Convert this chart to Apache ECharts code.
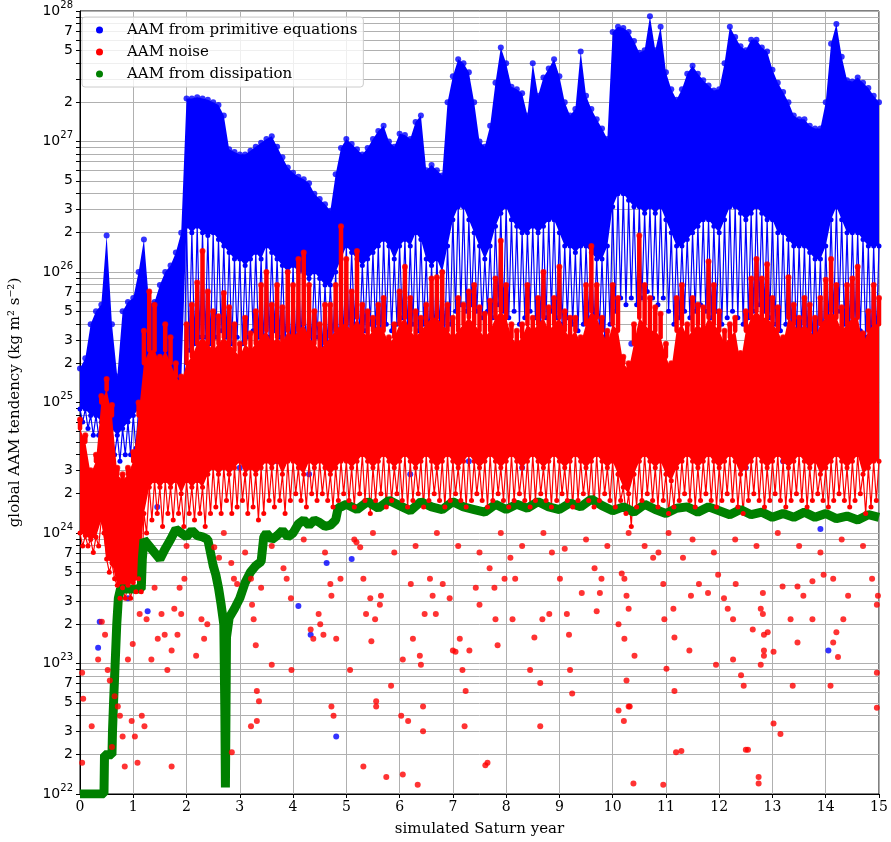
<!DOCTYPE html>
<html>
<head>
<meta charset="utf-8">
<script src="https://cdn.jsdelivr.net/npm/echarts@6/dist/echarts.min.js"></script>
<style>
  html, body { margin: 0; padding: 0; background: #fff; }
  #chart { width: 891px; height: 842px; }
</style>
</head>
<body>
<div id="chart"></div>
<script>
// all y values are log10 of the AAM tendency (kg m^2 s^-2)
// band arrays are sampled every 0.1 simulated year, 0 .. 15
var stepYears = [];
for (var i = 0; i <= 150; i++) stepYears.push(i / 10);

// primitive equations: upper edge, lower edge of the dense part, lower edge of the speckled part
var blueTopLog = [
  25.26, 25.34, 25.6, 25.7, 25.75, 26.28, 25.6, 25.2, 25.7, 25.77,
  25.8, 26.0, 26.25, 25.75, 25.77, 25.9, 26.0, 26.05, 26.15, 26.3,
  27.33, 27.33, 27.34, 27.33, 27.32, 27.3, 27.28, 27.2, 26.94, 26.92,
  26.9, 26.9, 26.93, 26.96, 26.99, 27.02, 27.04, 26.96, 26.88, 26.8,
  26.76, 26.73, 26.71, 26.68, 26.6, 26.56, 26.52, 26.47, 26.75, 26.95,
  27.02, 26.98, 26.94, 26.9, 26.95, 27.02, 27.08, 27.12, 27.0, 26.96,
  27.06, 27.05, 27.02, 27.15, 27.2, 26.78, 26.82, 26.78, 26.74, 27.3,
  27.5, 27.63, 27.6, 27.53, 27.3, 27.0, 26.96, 27.12, 27.45, 27.72,
  27.6, 27.42, 27.4, 27.37, 27.2, 27.6, 27.35, 27.49, 27.56, 27.63,
  27.5, 27.3, 27.2, 27.25, 27.69, 27.35, 27.25, 27.17, 27.1, 27.02,
  27.84, 27.88, 27.87, 27.84, 27.77, 27.68, 27.7, 27.96, 27.7, 27.88,
  27.53, 27.4, 27.32, 27.4, 27.52, 27.58, 27.52, 27.47, 27.43, 27.39,
  27.4, 27.6, 27.88, 27.8, 27.73, 27.7, 27.78, 27.78, 27.72, 27.69,
  27.55, 27.45, 27.38, 27.3, 27.2, 27.17, 27.17, 27.12, 27.1, 27.1,
  27.3, 27.75, 27.9, 27.65, 27.47, 27.46, 27.49, 27.45, 27.41, 27.35,
  27.3
];
var blueMidLog = [
  24.95, 24.95, 24.9, 24.9, 24.85, 24.85, 24.8, 24.75, 24.8, 24.85,
  24.9, 24.95, 25.0, 25.0, 25.0, 25.05, 25.05, 25.1, 25.1, 25.15,
  26.35, 26.3, 26.35, 26.3, 26.28, 26.3, 26.25, 26.2, 26.15, 26.1,
  26.1, 26.05, 26.1, 26.15, 26.1, 26.2, 26.15, 26.1, 26.05, 26.0,
  26.05, 26.0, 26.0, 25.95, 26.0, 25.95, 25.9, 25.9, 26.0, 26.1,
  26.2, 26.15, 26.1, 26.05, 26.1, 26.15, 26.2, 26.25, 26.2, 26.1,
  26.2, 26.25, 26.2, 26.3, 26.25, 26.1, 26.05, 26.1, 26.0, 26.2,
  26.4, 26.5, 26.5, 26.4, 26.3, 26.2, 26.1, 26.2, 26.35, 26.45,
  26.5, 26.4, 26.35, 26.3, 26.3, 26.35, 26.3, 26.35, 26.4, 26.4,
  26.3, 26.2, 26.2, 26.15, 26.2, 26.2, 26.15, 26.1, 26.1, 26.2,
  26.5, 26.6, 26.6, 26.55, 26.5, 26.5, 26.45, 26.5, 26.45, 26.5,
  26.4, 26.3, 26.2, 26.2, 26.25, 26.3, 26.35, 26.4, 26.4, 26.35,
  26.3, 26.4, 26.5, 26.5, 26.45, 26.4, 26.45, 26.5, 26.45, 26.4,
  26.4, 26.3, 26.3, 26.25, 26.2, 26.2, 26.2, 26.15, 26.1, 26.1,
  26.2, 26.4, 26.5, 26.4, 26.3, 26.3, 26.3, 26.25, 26.2, 26.2,
  26.2
];
var blueBotLog = [
  24.85, 24.8, 24.75, 24.75, 24.7, 24.65, 24.6, 24.55, 24.6, 24.6,
  24.65, 24.7, 24.75, 24.8, 24.8, 24.85, 24.8, 24.85, 24.9, 24.95,
  25.4, 25.45, 25.5, 25.5, 25.45, 25.5, 25.55, 25.5, 25.45, 25.5,
  25.45, 25.5, 25.55, 25.5, 25.45, 25.5, 25.55, 25.5, 25.45, 25.4,
  25.45, 25.5, 25.4, 25.45, 25.5, 25.4, 25.45, 25.5, 25.4, 25.5,
  25.55, 25.6, 25.5, 25.55, 25.6, 25.55, 25.5, 25.6, 25.55, 25.6,
  25.65, 25.55, 25.6, 25.55, 25.6, 25.5, 25.55, 25.6, 25.55, 25.6,
  25.7, 25.75, 25.7, 25.75, 25.7, 25.65, 25.7, 25.65, 25.75, 25.7,
  25.65, 25.7, 25.6, 25.65, 25.7, 25.65, 25.6, 25.65, 25.7, 25.65,
  25.6, 25.65, 25.6, 25.55, 25.6, 25.65, 25.6, 25.55, 25.5, 25.6,
  25.7, 25.8, 25.75, 25.8, 25.75, 25.8, 25.85, 25.8, 25.75, 25.8,
  25.7, 25.6, 25.65, 25.7, 25.65, 25.7, 25.75, 25.7, 25.65, 25.7,
  25.6, 25.65, 25.7, 25.65, 25.6, 25.65, 25.7, 25.75, 25.7, 25.65,
  25.6, 25.55, 25.6, 25.55, 25.5, 25.55, 25.5, 25.45, 25.5, 25.45,
  25.6, 25.65, 25.7, 25.6, 25.55, 25.6, 25.55, 25.5, 25.45, 25.5,
  25.5
];
// stray points of the same series below the cloud
var blueSparse = [
  [0.37, 23.32], [0.34, 23.12], [0.65, 22.9], [1.27, 23.4], [0.9, 23.5],
  [0.55, 24.3], [0.75, 24.1], [1.3, 24.4], [1.45, 24.2], [4.1, 23.44],
  [4.33, 23.22], [4.81, 22.44], [4.63, 23.77], [5.1, 23.8], [13.9, 24.03],
  [14.05, 23.1], [1.6, 24.6], [2.1, 24.7], [3.0, 24.5], [3.7, 24.55],
  [4.3, 24.45], [5.6, 24.7], [6.2, 24.45], [7.3, 24.55], [8.3, 24.5],
  [9.9, 24.8], [11.6, 24.6], [12.5, 24.5], [13.2, 24.55], [14.4, 24.6],
  [2.9, 24.9], [6.9, 24.95], [10.7, 24.85], [12.1, 24.9], [14.8, 24.95],
  [2.45, 25.3], [3.35, 25.2], [4.55, 25.25], [5.8, 25.3], [7.05, 25.4],
  [8.75, 25.35], [9.45, 25.3], [10.35, 25.45], [11.25, 25.4], [12.65, 25.3],
  [13.65, 25.2], [14.25, 25.35]
];

// noise: tops of the narrow spikes, top and bottom of the dense core, lower edge of the speckles
var redTopLog = [
  24.87, 24.75, 24.48, 24.6, 25.05, 25.18, 24.98, 24.5, 24.45, 24.5,
  24.62, 25.0, 25.55, 25.85, 25.75, 25.35, 25.6, 25.5, 25.3, 25.2,
  25.6, 25.75, 25.92, 26.16, 25.85, 25.7, 25.66, 25.84, 25.73, 25.6,
  25.45, 25.65, 25.53, 25.7, 25.9, 26.0, 25.75, 25.9, 25.73, 26.0,
  25.9, 26.1, 26.15, 25.9, 25.7, 25.6, 25.75, 25.75, 25.9, 26.35,
  26.1, 25.85, 26.16, 25.75, 25.7, 25.65, 25.75, 25.8, 25.5, 25.6,
  25.85, 26.04, 25.8, 25.7, 25.65, 25.75, 25.95, 25.96, 26.0, 25.75,
  25.65, 25.8, 25.75, 25.85, 25.9, 25.73, 25.68, 25.78, 25.95, 26.24,
  25.9, 25.6, 25.55, 25.6, 25.9, 25.65, 25.8, 26.0, 25.73, 25.8,
  26.04, 25.7, 25.65, 25.65, 25.5, 25.9, 26.2, 25.9, 25.65, 25.55,
  25.9, 25.8, 25.35, 25.3, 25.6, 26.28, 25.9, 25.8, 25.73, 25.68,
  25.45, 25.3, 25.8, 25.9, 25.6, 25.8, 25.75, 25.73, 26.08, 25.9,
  25.7, 25.55, 25.6, 25.65, 25.38, 25.7, 25.95, 26.1, 25.95, 26.06,
  25.8, 25.73, 25.5, 25.96, 25.75, 25.65, 25.8, 25.75, 25.65, 25.8,
  25.94, 26.1, 25.9, 25.73, 25.9, 25.95, 26.04, 25.53, 25.7, 25.9,
  25.8
];
var redCoreLog = [
  24.8, 24.7, 24.45, 24.55, 25.0, 25.1, 24.9, 24.45, 24.4, 24.45,
  24.55, 24.9, 25.3, 25.4, 25.4, 25.3, 25.4, 25.3, 25.2, 25.15,
  25.3, 25.35, 25.45, 25.5, 25.45, 25.4, 25.45, 25.5, 25.45, 25.4,
  25.35, 25.45, 25.4, 25.45, 25.5, 25.55, 25.45, 25.5, 25.45, 25.55,
  25.5, 25.55, 25.6, 25.5, 25.45, 25.4, 25.45, 25.5, 25.55, 25.6,
  25.6, 25.55, 25.65, 25.55, 25.5, 25.55, 25.6, 25.55, 25.45, 25.5,
  25.6, 25.65, 25.55, 25.5, 25.55, 25.6, 25.65, 25.65, 25.6, 25.55,
  25.5, 25.55, 25.6, 25.65, 25.6, 25.55, 25.5, 25.55, 25.65, 25.7,
  25.65, 25.5, 25.45, 25.5, 25.6, 25.55, 25.6, 25.65, 25.55, 25.6,
  25.65, 25.55, 25.5, 25.55, 25.45, 25.6, 25.7, 25.65, 25.55, 25.45,
  25.6, 25.55, 25.3, 25.25, 25.45, 25.65, 25.6, 25.55, 25.55, 25.5,
  25.35, 25.25, 25.55, 25.6, 25.5, 25.55, 25.6, 25.55, 25.65, 25.6,
  25.55, 25.45, 25.5, 25.55, 25.3, 25.55, 25.65, 25.7, 25.65, 25.65,
  25.6, 25.55, 25.45, 25.65, 25.6, 25.55, 25.6, 25.55, 25.5, 25.6,
  25.65, 25.7, 25.65, 25.55, 25.6, 25.65, 25.65, 25.45, 25.55, 25.6,
  25.6
];
var redBotLog = [
  24.0, 23.98, 23.95, 23.97, 24.1, 23.8, 23.77, 23.6, 23.58, 23.6,
  23.62, 23.65, 24.15, 24.35, 24.4, 24.35, 24.4, 24.35, 24.4, 24.3,
  24.4, 24.35, 24.4, 24.35, 24.45, 24.5, 24.45, 24.5, 24.45, 24.5,
  24.55, 24.45, 24.5, 24.45, 24.5, 24.55, 24.5, 24.55, 24.45, 24.55,
  24.55, 24.5, 24.45, 24.55, 24.5, 24.55, 24.5, 24.45, 24.5, 24.55,
  24.55, 24.5, 24.55, 24.6, 24.55, 24.5, 24.55, 24.6, 24.55, 24.5,
  24.55, 24.6, 24.55, 24.5, 24.55, 24.6, 24.55, 24.5, 24.55, 24.6,
  24.55, 24.5, 24.55, 24.6, 24.55, 24.5, 24.55, 24.6, 24.55, 24.5,
  24.55, 24.6, 24.55, 24.5, 24.55, 24.6, 24.55, 24.5, 24.55, 24.6,
  24.55, 24.5, 24.55, 24.6, 24.55, 24.5, 24.55, 24.6, 24.55, 24.5,
  24.55, 24.45, 24.35, 24.3, 24.45, 24.55, 24.6, 24.55, 24.5, 24.55,
  24.45, 24.4, 24.5, 24.55, 24.6, 24.55, 24.5, 24.55, 24.6, 24.55,
  24.5, 24.55, 24.6, 24.55, 24.45, 24.5, 24.55, 24.6, 24.55, 24.5,
  24.55, 24.6, 24.55, 24.5, 24.55, 24.6, 24.55, 24.5, 24.55, 24.45,
  24.5, 24.55, 24.6, 24.55, 24.5, 24.55, 24.6, 24.45, 24.5, 24.55,
  24.55
];
var redLowLog = [
  23.9, 23.9, 23.85, 23.9, 24.0, 23.7, 23.65, 23.5, 23.5, 23.5,
  23.55, 23.55, 24.0, 24.1, 24.15, 24.05, 24.15, 24.1, 24.15, 24.05,
  24.15, 24.1, 24.15, 24.05, 24.15, 24.2, 24.15, 24.25, 24.15, 24.2,
  24.25, 24.15, 24.2, 24.1, 24.15, 24.25, 24.2, 24.25, 24.15, 24.25,
  24.3, 24.25, 24.2, 24.3, 24.25, 24.3, 24.25, 24.2, 24.25, 24.3,
  24.25, 24.2, 24.3, 24.25, 24.15, 24.25, 24.3, 24.2, 24.25, 24.3,
  24.25, 24.2, 24.25, 24.3, 24.2, 24.25, 24.3, 24.25, 24.2, 24.25,
  24.3, 24.25, 24.2, 24.25, 24.3, 24.25, 24.2, 24.25, 24.3, 24.25,
  24.2, 24.25, 24.3, 24.25, 24.2, 24.25, 24.3, 24.25, 24.2, 24.25,
  24.3, 24.25, 24.2, 24.25, 24.3, 24.25, 24.2, 24.25, 24.3, 24.25,
  24.2, 24.25, 24.15, 24.05, 24.2, 24.25, 24.3, 24.25, 24.2, 24.25,
  24.15, 24.2, 24.25, 24.3, 24.25, 24.2, 24.25, 24.3, 24.25, 24.2,
  24.25, 24.3, 24.25, 24.2, 24.15, 24.25, 24.3, 24.25, 24.2, 24.25,
  24.3, 24.25, 24.2, 24.25, 24.3, 24.25, 24.2, 24.25, 24.3, 24.25,
  24.2, 24.25, 24.3, 24.25, 24.2, 24.25, 24.3, 24.15, 24.2, 24.25,
  24.25
];
var redSparse = [
  [0.04, 22.93], [0.06, 22.73], [0.22, 22.52], [0.34, 23.03], [0.41, 23.32],
  [0.47, 23.22], [0.52, 22.95], [0.56, 22.87], [0.65, 22.75], [0.71, 22.67],
  [0.75, 22.6], [0.8, 22.44], [0.84, 22.21], [0.9, 23.03], [0.97, 22.56],
  [0.99, 23.15], [1.03, 22.44], [1.08, 22.24], [1.12, 23.38], [1.21, 22.52],
  [1.25, 23.34], [1.34, 23.03], [1.4, 23.58], [1.46, 23.19], [1.53, 23.38],
  [1.59, 23.22], [1.64, 22.95], [1.72, 23.1], [1.77, 23.42], [1.83, 23.22],
  [1.87, 23.58], [1.9, 23.38], [1.96, 23.65], [2.18, 23.06], [2.28, 23.34],
  [2.33, 23.19], [1.72, 22.21], [1.16, 22.6], [0.6, 22.36], [0.04, 22.24],
  [2.39, 23.3], [2.52, 23.89], [2.61, 23.81], [2.84, 23.77], [2.89, 23.65],
  [2.95, 23.61], [3.21, 23.65], [3.23, 23.45], [3.26, 23.34], [3.3, 23.14],
  [3.32, 22.79], [3.36, 22.71], [3.4, 23.58], [3.21, 22.52], [3.32, 22.56],
  [3.6, 22.99], [3.82, 23.73], [3.88, 23.65], [3.96, 23.5], [3.97, 22.95],
  [4.33, 23.26], [4.38, 23.19], [4.48, 23.38], [4.51, 23.3], [4.57, 23.22],
  [4.72, 22.67], [4.76, 22.6], [4.81, 23.19], [4.7, 23.61], [4.72, 23.52],
  [4.89, 23.65], [5.07, 22.95], [2.85, 22.32], [5.26, 23.89], [5.32, 23.65],
  [5.37, 23.38], [5.45, 23.5], [5.47, 23.17], [5.54, 23.34], [5.56, 22.71],
  [5.63, 23.45], [5.65, 23.52], [5.75, 22.13], [5.84, 22.83], [6.03, 22.6],
  [6.06, 23.03], [6.16, 22.56], [6.21, 23.61], [6.25, 23.19], [6.38, 23.06],
  [6.4, 22.99], [6.44, 22.67], [6.44, 22.48], [6.34, 22.07], [6.47, 23.38],
  [6.57, 23.65], [6.62, 23.52], [6.68, 23.38], [6.81, 23.61], [6.94, 23.5],
  [7.0, 23.1], [7.05, 23.09], [7.13, 23.19], [7.18, 22.95], [7.24, 22.79],
  [7.22, 22.52], [7.31, 23.1], [7.43, 23.58], [7.5, 23.45], [7.61, 22.22],
  [5.32, 22.21], [5.56, 22.67], [5.19, 23.93], [7.65, 22.24], [7.69, 23.73],
  [7.78, 23.58], [7.8, 23.34], [7.84, 23.14], [7.97, 23.65], [8.12, 23.34],
  [8.17, 23.65], [8.45, 22.95], [8.53, 23.2], [8.64, 22.85], [8.64, 22.52],
  [8.68, 23.34], [8.81, 23.38], [8.86, 23.85], [9.01, 23.65], [9.14, 23.38],
  [9.18, 23.22], [9.2, 22.95], [9.24, 22.77], [9.42, 23.54], [9.66, 23.73],
  [9.7, 23.4], [9.76, 23.54], [9.79, 23.65], [10.11, 23.3], [10.17, 23.69],
  [10.22, 23.19], [10.26, 22.87], [10.3, 22.67], [10.21, 22.56], [10.11, 22.64],
  [8.08, 23.81], [10.22, 23.65], [10.26, 23.52], [10.3, 23.42], [10.32, 22.67],
  [10.41, 23.06], [10.76, 23.81], [10.86, 23.85], [10.95, 23.61], [10.97, 23.34],
  [11.01, 22.96], [11.14, 23.42], [11.16, 23.2], [11.16, 22.79], [11.19, 22.32],
  [10.95, 22.07], [11.32, 23.81], [11.44, 23.1], [11.47, 23.52], [11.62, 23.61],
  [11.79, 23.54], [11.94, 22.99], [11.98, 23.68], [12.09, 23.5], [12.16, 23.42],
  [12.26, 23.34], [12.26, 23.03], [12.41, 22.91], [12.46, 22.83], [12.5, 22.34],
  [12.63, 23.26], [12.74, 22.08], [12.78, 23.42], [12.84, 23.22], [12.84, 23.06],
  [12.31, 23.61], [12.54, 22.34], [12.82, 23.54], [12.82, 23.38], [12.84, 23.1],
  [12.78, 22.99], [13.02, 23.09], [13.02, 22.54], [13.15, 22.46], [13.19, 23.59],
  [13.34, 23.34], [13.38, 22.83], [13.47, 23.16], [13.47, 23.59], [13.58, 23.52],
  [13.75, 23.63], [13.75, 23.34], [13.96, 23.68], [14.14, 23.65], [14.14, 23.16],
  [14.2, 23.24], [14.23, 23.05], [14.09, 22.83], [14.42, 23.52], [14.33, 23.34],
  [14.96, 23.45], [14.87, 23.65], [14.98, 23.52], [14.96, 22.93], [14.96, 22.66],
  [12.74, 22.13], [12.91, 23.24], [10.39, 22.08], [11.29, 22.33], [6.06, 22.15],
  [2.0, 23.9], [2.7, 24.0], [3.1, 23.85], [3.6, 23.9], [4.2, 23.95],
  [4.6, 23.85], [5.15, 23.95], [5.5, 24.0], [5.9, 23.85], [6.3, 23.9],
  [6.7, 24.0], [7.1, 23.9], [7.5, 23.85], [7.9, 24.0], [8.3, 23.9],
  [8.7, 24.0], [9.1, 23.88], [9.5, 23.95], [9.9, 23.9], [10.3, 24.0],
  [10.6, 23.9], [11.05, 24.0], [11.5, 23.95], [11.9, 23.85], [12.3, 23.95],
  [12.7, 23.9], [13.1, 24.0], [13.5, 23.9], [13.9, 23.85], [14.3, 23.95],
  [14.7, 23.9]
];

// dissipation: one thick trace
var greenYears = [
  0, 0.45, 0.46, 0.6, 0.61, 0.63, 0.65, 0.67, 0.69, 0.72,
  0.76, 1.15, 1.17, 1.2, 1.3, 1.4, 1.5, 1.6, 1.7, 1.8,
  1.9, 2.0, 2.1, 2.2, 2.3, 2.4, 2.45, 2.5, 2.55, 2.6,
  2.65, 2.7, 2.72, 2.73, 2.74, 2.75, 2.8, 2.9, 3.0, 3.1,
  3.2, 3.3, 3.4, 3.45, 3.5, 3.6, 3.7, 3.8, 3.9, 4.0,
  4.1, 4.2, 4.3, 4.4, 4.5, 4.6, 4.7, 4.8, 4.85, 4.9,
  5.0, 5.2, 5.4, 5.6, 5.8, 6.0, 6.2, 6.4, 6.6, 6.8,
  7.0, 7.2, 7.4, 7.6, 7.8, 8.0, 8.2, 8.4, 8.6, 8.8,
  9.0, 9.2, 9.4, 9.6, 9.8, 10.0, 10.2, 10.4, 10.6, 10.8,
  11.0, 11.2, 11.4, 11.6, 11.8, 12.0, 12.2, 12.4, 12.6, 12.8,
  13.0, 13.2, 13.4, 13.6, 13.8, 14.0, 14.2, 14.4, 14.6, 14.8,
  15.0
];
var greenLog = [
  22.0, 22.0, 22.3, 22.3, 22.48, 22.7, 22.9, 23.1, 23.3, 23.5,
  23.57, 23.57, 23.8, 23.95, 23.9, 23.85, 23.8, 23.88, 23.95, 24.03,
  24.0, 23.97, 24.02, 23.98, 23.97, 23.95, 23.85, 23.75, 23.68, 23.58,
  23.45, 23.3, 22.6, 22.05, 22.6, 23.2, 23.35, 23.42, 23.5, 23.62,
  23.7, 23.75, 23.78, 23.97, 24.0, 23.95, 23.98, 24.02, 23.97, 24.0,
  24.07, 24.1, 24.06, 24.1, 24.08, 24.05, 24.06, 24.1, 24.2, 24.2,
  24.22, 24.18, 24.24, 24.19, 24.25, 24.21, 24.17, 24.24, 24.2, 24.18,
  24.24, 24.2, 24.18, 24.16, 24.22, 24.18, 24.22, 24.19, 24.24, 24.2,
  24.18, 24.23, 24.2, 24.26, 24.21, 24.17, 24.2, 24.16, 24.22, 24.18,
  24.15, 24.19, 24.2, 24.16, 24.2, 24.17, 24.14, 24.18, 24.14, 24.16,
  24.12, 24.15, 24.12, 24.16, 24.12, 24.15, 24.11, 24.13, 24.1, 24.14,
  24.12
];

// y tick labels: decades, plus the mantissas that carry a label in each decade
var decades = [22, 23, 24, 25, 26, 27, 28];
var labelledMantissas = {
  22: [2, 3, 5, 7], 23: [2, 3, 5, 7], 24: [2, 3],
  25: [2, 3, 5, 7], 26: [2, 3, 5], 27: [2, 5, 7]
};
var xTicks = [0, 1, 2, 3, 4, 5, 6, 7, 8, 9, 10, 11, 12, 13, 14, 15];

var tickVals = [], labelVals = [];
decades.forEach(function (d) {
  tickVals.push(d);
  labelVals.push(d);
  if (d === 28) return;
  for (var k = 2; k <= 9; k++) tickVals.push(d + Math.log10(k));
  labelledMantissas[d].forEach(function (m) { labelVals.push(d + Math.log10(m)); });
});

function pairs(vals) {
  return vals.map(function (v, i) { return [stepYears[i], v]; });
}
// alternate between two edges: gives the speckled part of a cloud
function zigzag(top, bot) {
  var pts = [];
  for (var i = 0; i < top.length; i++) {
    pts.push([stepYears[i], top[i]]);
    if (i < top.length - 1) pts.push([stepYears[i] + 0.05, bot[i]]);
  }
  return pts;
}
// solid cloud between two edges, placed through the axes
function cloud(name, top, bot, color, z) {
  return {
    name: name, type: 'custom', z: z, silent: true,
    itemStyle: { color: color },
    data: [[0, 25]],
    renderItem: function (params, api) {
      var pts = [];
      for (var i = 0; i < top.length; i++) pts.push(api.coord([stepYears[i], top[i]]));
      for (var j = bot.length - 1; j >= 0; j--) pts.push(api.coord([stepYears[j], bot[j]]));
      return { type: 'polygon', shape: { points: pts }, style: { fill: color } };
    }
  };
}
// narrow vertical spikes rising out of the core
function spikes(name, top, base, color, z) {
  return {
    name: name, type: 'custom', z: z, silent: true,
    itemStyle: { color: color },
    data: top.map(function (v, i) { return [stepYears[i], v, base[i]]; }),
    encode: { x: 0, y: [1, 2] },
    renderItem: function (params, api) {
      var x = api.value(0), t = api.value(1), b = api.value(2);
      if (t <= b) return;
      var p1 = api.coord([x, t]), p2 = api.coord([x, b]);
      return {
        type: 'line',
        shape: { x1: p1[0], y1: p1[1], x2: p2[0], y2: p2[1] },
        style: { stroke: color, lineWidth: 4.5, lineCap: 'round' }
      };
    }
  };
}
var greenData = greenYears.map(function (x, i) { return [x, greenLog[i]]; });

var BLUE = '#0000ff', RED = '#ff0000', GREEN = '#008000';
var N_BLUE = 'AAM from primitive equations', N_RED = 'AAM noise', N_GREEN = 'AAM from dissipation';
var chart = echarts.init(document.getElementById('chart'));

var option = {
  animation: false,
  backgroundColor: '#fff',
  grid: {
    left: 75, right: 12, top: 10, bottom: 48,
    show: true, borderColor: '#000', borderWidth: 1
  },
  legend: {
    left: 82, top: 17,
    orient: 'vertical',
    itemGap: 4,
    itemWidth: 7, itemHeight: 7,
    padding: [4, 6, 4, 14],
    backgroundColor: 'rgba(255,255,255,0.8)',
    borderColor: '#cccccc', borderWidth: 1, borderRadius: 3,
    selectedMode: false,
    textStyle: {
      fontFamily: 'DejaVu Serif', fontSize: 15, color: '#000',
      lineHeight: 18, padding: [0, 0, 0, 19]
    },
    data: [
      { name: N_BLUE, icon: 'circle', itemStyle: { color: BLUE } },
      { name: N_RED, icon: 'circle', itemStyle: { color: RED } },
      { name: N_GREEN, icon: 'circle', itemStyle: { color: GREEN } }
    ]
  },
  xAxis: {
    type: 'value', min: 0, max: 15, interval: 1,
    name: 'simulated Saturn year', nameLocation: 'middle', nameGap: 28,
    nameTextStyle: { fontFamily: 'DejaVu Serif', fontSize: 15, color: '#000' },
    axisLine: { show: true, lineStyle: { color: '#000', width: 1 } },
    axisTick: { show: true, length: 4, lineStyle: { color: '#000' } },
    axisLabel: {
      fontFamily: 'DejaVu Serif', fontSize: 14, color: '#000', margin: 6,
      customValues: xTicks,
      formatter: function (v) { return String(v); }
    },
    splitLine: { show: true, lineStyle: { color: '#b0b0b0', width: 1 } }
  },
  yAxis: {
    type: 'value', min: 22, max: 28, interval: 1,
    name: 'global AAM tendency (kg m\u00b2 s\u207b\u00b2)',
    nameLocation: 'middle', nameGap: 57, nameRotate: 90,
    nameTextStyle: { fontFamily: 'DejaVu Serif', fontSize: 15, color: '#000' },
    axisLine: { show: true, lineStyle: { color: '#000', width: 1 } },
    axisTick: { show: true, length: 4, customValues: tickVals, lineStyle: { color: '#000' } },
    axisLabel: {
      customValues: labelVals,
      margin: 7,
      formatter: function (v) {
        var r = Math.round(v);
        if (Math.abs(v - r) < 1e-6) return '{b|10}{s|' + r + '}';
        return '{b|' + Math.round(Math.pow(10, v - Math.floor(v))) + '}';
      },
      rich: {
        b: { fontFamily: 'DejaVu Sans', fontSize: 14, color: '#000', lineHeight: 22 },
        s: { fontFamily: 'DejaVu Sans', fontSize: 10, color: '#000', lineHeight: 12, verticalAlign: 'top' }
      }
    },
    splitLine: { show: true, lineStyle: { color: '#b0b0b0', width: 1 } }
  },
  series: [
    cloud(N_BLUE, blueTopLog, blueMidLog, BLUE, 2),
    {
      name: N_BLUE, type: 'line', z: 2, silent: true,
      data: zigzag(blueMidLog, blueBotLog),
      symbol: 'circle', symbolSize: 5, showSymbol: true,
      itemStyle: { color: BLUE }, lineStyle: { color: BLUE, width: 1.2 }
    },
    {
      name: N_BLUE, type: 'scatter', z: 2, silent: true,
      data: pairs(blueTopLog).concat(blueSparse), symbolSize: 6, itemStyle: { color: BLUE }
    },
    cloud(N_RED, redCoreLog, redBotLog, RED, 3),
    spikes(N_RED, redTopLog, redCoreLog, RED, 3),
    {
      name: N_RED, type: 'line', z: 3, silent: true,
      data: zigzag(redBotLog, redLowLog),
      symbol: 'circle', symbolSize: 5, showSymbol: true,
      itemStyle: { color: RED }, lineStyle: { color: RED, width: 1.2 }
    },
    {
      name: N_RED, type: 'scatter', z: 3, silent: true,
      data: pairs(redTopLog).concat(redSparse),
      symbolSize: 6, itemStyle: { color: RED }
    },
    {
      name: N_GREEN, type: 'line', z: 3, silent: true,
      data: greenData, showSymbol: false, symbol: 'circle',
      itemStyle: { color: GREEN }, lineStyle: { color: GREEN, width: 9 }
    }
  ]
};
chart.setOption(option);
</script>
</body>
</html>
